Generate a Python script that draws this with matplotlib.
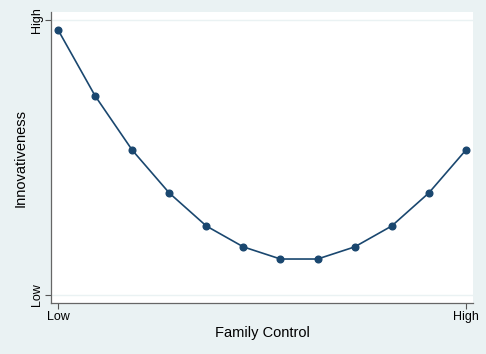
import matplotlib
matplotlib.use("Agg")
import matplotlib.pyplot as plt

# family control steps (Low -> High) and predicted innovativeness (0 = Low, 1 = High)
family_control = [0, 1, 2, 3, 4, 5, 6, 7, 8, 9, 10, 11]
innovativeness = [0.964, 0.724, 0.527, 0.371, 0.251, 0.175,
                  0.131, 0.131, 0.175, 0.251, 0.371, 0.527]
x_ticks = [0, 11]
x_labels = ["Low", "High"]
y_ticks = [0, 1]
y_labels = ["Low", "High"]

BG = "#eaf2f3"
NAVY = "#1a476f"

plt.rcParams["font.family"] = ["Liberation Sans", "DejaVu Sans"]

fig = plt.figure(figsize=(4.86, 3.54), dpi=100, facecolor=BG)
ax = fig.add_axes([0.105, 0.144, 0.868, 0.822])
ax.set_facecolor("white")

ax.plot(family_control, innovativeness, color=NAVY, lw=1.2,
        marker="o", ms=4.8, mfc=NAVY, mec=NAVY, zorder=3)

ax.set_xlim(-0.19, 11.19)
ax.set_ylim(-0.029, 1.029)

ax.set_xticks(x_ticks)
ax.set_xticklabels(x_labels, fontsize=9)
ax.set_yticks(y_ticks)
ax.set_yticklabels(y_labels, fontsize=9, rotation=90, va="center")
ax.tick_params(length=4, width=0.8, color="#555555", pad=2)

# horizontal grid lines at the tick positions
for yv in y_ticks:
    ax.axhline(yv, color=BG, lw=1.0, zorder=1)

for s in ["top", "right"]:
    ax.spines[s].set_visible(False)
for s in ["left", "bottom"]:
    ax.spines[s].set_color("#666666")
    ax.spines[s].set_linewidth(0.9)

ax.set_xlabel("Family Control", fontsize=10.5, labelpad=2)
ax.set_ylabel("Innovativeness", fontsize=10.5, labelpad=2)

fig.savefig("out.png", dpi=100, facecolor=BG)
